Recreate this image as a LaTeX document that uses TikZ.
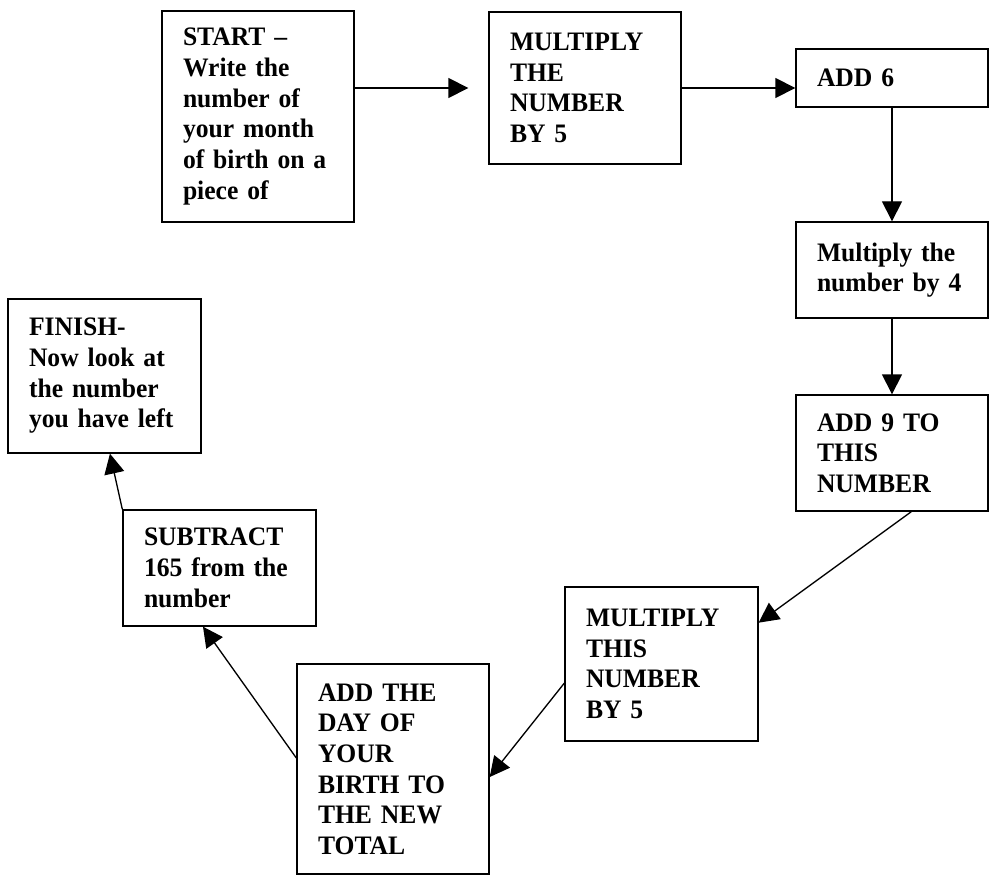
\documentclass[tikz,border=0pt]{standalone}
\usepackage{fontspec}
\setmainfont{Liberation Serif}[FakeStretch=0.96]
\usetikzlibrary{arrows.meta,calc}
\newcommand\boxfont{\bfseries\fontsize{20}{23}\selectfont\spaceskip=0.2em plus 0.1em\relax}
\begin{document}
\begin{tikzpicture}[x=0.75pt,y=-0.75pt,
  box/.style={draw, line width=1pt, rectangle, inner xsep=15.75pt, inner ysep=0pt,
    align=left, font=\boxfont, anchor=center},
  arr/.style={-{Triangle[length=15pt,width=15pt]}, line width=1pt}]
\useasboundingbox (0,0) rectangle (997,888);
\fill[white] (0,0) rectangle (997,888);

\node[box, text width=112.5pt, minimum height=158.25pt] (start) at (258,116.5)
  {START –\\Write the\\number of\\your month\\of birth on a\\piece of};
\node[box, text width=112.5pt, minimum height=114pt] (mult) at (585,88)
  {MULTIPLY\\THE\\NUMBER\\BY 5};
\node[box, text width=112.5pt, minimum height=43.5pt] (add6) at (892,78)
  {ADD 6};
\node[box, text width=112.5pt, minimum height=72pt] (mul4) at (892,270)
  {Multiply the\\number by 4};
\node[box, text width=112.5pt, minimum height=87pt] (add9) at (892,453)
  {ADD 9 TO\\THIS\\NUMBER};
\node[box, text width=113.25pt, minimum height=115.5pt] (mt) at (661.5,664)
  {MULTIPLY\\THIS\\NUMBER\\BY 5};
\node[box, text width=112.5pt, minimum height=157.5pt] (addday) at (393,769)
  {ADD THE\\DAY OF\\YOUR\\BIRTH TO\\THE NEW\\TOTAL};
\node[box, text width=113.25pt, minimum height=87pt] (sub) at (219.5,568)
  {SUBTRACT\\165 from the\\number};
\node[box, text width=113.25pt, minimum height=115.5pt] (finish) at (104.5,376)
  {FINISH-\\Now look at\\the number\\you have left};

\draw[arr] (start.east |- mult.west) -- ([xshift=-15pt]mult.west);
\draw[arr] (mult.east) -- (add6.west |- mult.east);
\draw[arr] (add6.south) -- (mul4.north);
\draw[arr] (mul4.south) -- (add9.north);
\draw[arr] ($(add9.south west)!0.6!(add9.south east)$) -- ($(mt.north east)!0.234!(mt.south east)$);
\draw[arr] ($(mt.north west)!0.623!(mt.south west)$) -- ($(addday.north east)!0.538!(addday.south east)$);
\draw[arr] ($(addday.north west)!0.448!(addday.south west)$) -- ($(sub.south west)!0.415!(sub.south east)$);
\draw[arr] (sub.north west) -- ($(finish.south west)!0.528!(finish.south east)$);
\end{tikzpicture}
\end{document}
